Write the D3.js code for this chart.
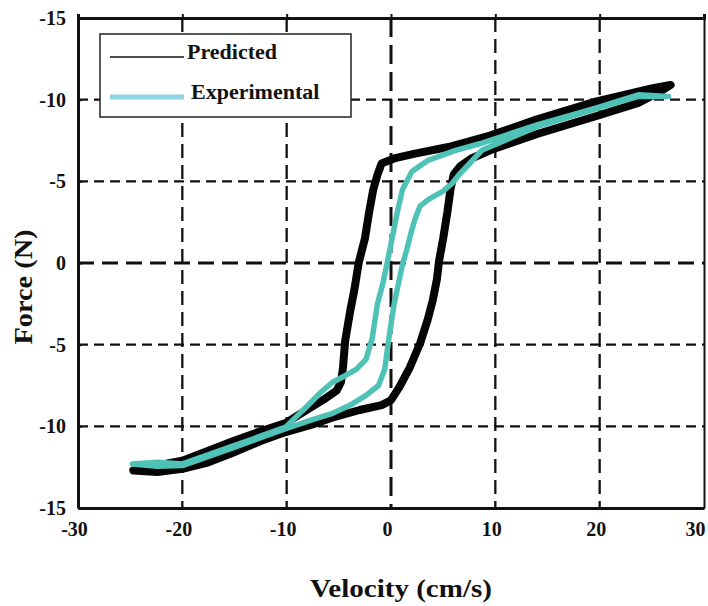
<!DOCTYPE html>
<html>
<head>
<meta charset="utf-8">
<script src="https://cdn.jsdelivr.net/npm/d3@7"></script>
<style>
    body { margin: 0; background: #fff; }
    svg { display: block; font-family: "Liberation Serif", "Times New Roman", serif; font-weight: bold; }
</style>
</head>
<body>
<svg></svg>
<script>
// tick values + the labels printed on the original (y labels are mirrored)
let velocityTicks = [-30, -20, -10, 0, 10, 20, 30]
let velocityTickLabels = ['-30', '-20', '-10', '0', '10', '20', '30']
let forceTicks = [15, 10, 5, 0, -5, -10, -15]
let forceTickLabels = ['-15', '-10', '-5', '0', '-5', '-10', '-15']
let velocityGrid = [-20, -10, 0, 10, 20]
let forceGrid = [10, 5, 0, -5, -10]

// predicted loop
let predictedVelocity = [-24.7, -22.4, -20.0, -17.5, -15.1, -12.5, -10.1, -7.6, -5.3, -3.0, -0.9, 0.0, 0.8, 1.8, 2.8, 3.5, 4.0, 4.4, 4.6, 5.0, 5.4, 5.7, 6.0, 6.6, 7.7, 9.5, 14.0, 19.7, 23.7, 25.8, 26.8,
    25.1, 19.7, 14.0, 9.5, 5.5, 2.3, 0.3, -0.9, -1.3, -1.7, -2.1, -2.5, -3.1, -3.5, -3.9, -4.4, -4.6, -4.8, -5.2, -6.3, -7.6, -10.1, -12.5, -15.1, -17.5, -20.0, -22.4]
let predictedForce = [-12.7, -12.8, -12.6, -12.2, -11.6, -10.9, -10.35, -9.9, -9.4, -9.0, -8.7, -8.4, -7.6, -6.4, -4.9, -3.5, -2.3, -1.0, 0.1, 1.5, 3.1, 4.5, 5.4, 5.9, 6.4, 6.9, 7.9, 9.0, 9.8, 10.5, 10.9,
    10.7, 9.9, 8.8, 7.8, 7.1, 6.7, 6.4, 6.1, 5.4, 4.5, 3.1, 1.5, 0.0, -1.6, -2.9, -4.8, -6.4, -7.3, -7.8, -8.3, -8.8, -9.8, -10.3, -10.9, -11.5, -12.1, -12.4]

// experimental loop
let experimentalVelocity = [-24.8, -22.4, -20.0, -15.1, -10.1, -7.6, -5.6, -3.9, -2.4, -1.2, -0.6, -0.2, 0.3, 0.7, 1.1, 1.5, 1.9, 2.3, 2.8, 3.6, 5.0, 5.9, 6.5, 7.4, 8.7, 14.0, 19.7, 23.7, 26.6,
    23.7, 19.7, 14.0, 8.5, 6.2, 3.6, 2.0, 1.1, 0.6, 0.1, -0.4, -0.8, -1.3, -1.8, -2.4, -3.3, -4.4, -5.6, -6.7, -8.1, -10.1, -15.1, -20.0, -22.4]
let experimentalForce = [-12.3, -12.45, -12.4, -11.3, -10.15, -9.6, -9.2, -8.7, -8.1, -7.5, -6.5, -4.6, -2.5, -1.3, -0.1, 0.8, 1.8, 2.7, 3.5, 3.9, 4.4, 4.9, 5.4, 6.0, 6.9, 8.35, 9.45, 10.2, 10.2,
    10.3, 9.5, 8.45, 7.3, 6.9, 6.3, 5.6, 4.5, 3.1, 1.5, -0.1, -1.3, -2.5, -4.6, -5.9, -6.5, -6.9, -7.3, -7.9, -8.8, -10.05, -11.2, -12.3, -12.2]

let width = 708
let height = 606
let margin = {top: 18, right: 4, bottom: 98, left: 78}

let svg = d3.select('svg')
svg.attr('width', width).attr('height', height)

let xScale = d3.scaleLinear().domain([-30, 30]).range([margin.left, width - margin.right])
let yScale = d3.scaleLinear().domain([-15, 15]).range([height - margin.bottom, margin.top])

let drawGrid = () => {
    svg.append('g')
        .selectAll('line')
        .data(velocityGrid)
        .enter()
        .append('line')
        .attr('x1', d => xScale(d))
        .attr('x2', d => xScale(d))
        .attr('y1', yScale(15))
        .attr('y2', yScale(-15))
        .attr('stroke', '#111')
        .attr('stroke-width', d => d === 0 ? 3 : 2.3)
        .attr('stroke-dasharray', d => d === 0 ? '19,8' : '14,7')

    svg.append('g')
        .selectAll('line')
        .data(forceGrid)
        .enter()
        .append('line')
        .attr('x1', xScale(-30))
        .attr('x2', xScale(30))
        .attr('y1', d => yScale(d))
        .attr('y2', d => yScale(d))
        .attr('stroke', '#111')
        .attr('stroke-width', d => d === 0 ? 3 : 2.3)
        .attr('stroke-dasharray', d => d === 0 ? '16,8' : '10,6')
}

let drawAxes = () => {
    let xAxis = d3.axisBottom(xScale)
        .tickValues(velocityTicks)
        .tickSize(0)
        .tickPadding(14)
        .tickFormat((d, i) => velocityTickLabels[i])
    let yAxis = d3.axisLeft(yScale)
        .tickValues(forceTicks)
        .tickSizeInner(-4)
        .tickSizeOuter(0)
        .tickPadding(12)
        .tickFormat((d, i) => forceTickLabels[i])

    let gx = svg.append('g')
        .attr('transform', 'translate(0, ' + (height - margin.bottom) + ')')
        .call(xAxis)
    gx.selectAll('text')
        .attr('dx', d => d === 30 ? -9 : -4)
    let gy = svg.append('g')
        .attr('transform', 'translate(' + margin.left + ', 0)')
        .call(yAxis)

    let gTop = svg.append('g')
        .attr('transform', 'translate(0, ' + margin.top + ')')
        .call(d3.axisTop(xScale).tickValues(velocityGrid).tickSize(4).tickFormat(''))
    let gRight = svg.append('g')
        .attr('transform', 'translate(' + (width - margin.right) + ', 0)')
        .call(d3.axisRight(yScale).tickValues(forceGrid).tickSize(0).tickFormat(''))

    ;[gx, gy, gTop, gRight].forEach(g => {
        g.selectAll('text')
            .attr('font-family', '"Liberation Serif", "Times New Roman", serif')
            .attr('font-weight', 'bold')
            .attr('font-size', 20)
            .attr('fill', '#111')
        g.selectAll('line').attr('stroke', '#111').attr('stroke-width', 2)
        g.select('.domain').attr('stroke', '#111').attr('stroke-width', 3)
    })
    gRight.select('.domain').attr('stroke-width', 2)
}

let drawLoops = () => {
    let line = d3.line()
        .x(d => xScale(d[0]))
        .y(d => yScale(d[1]))
        .curve(d3.curveLinearClosed)

    let predicted = predictedVelocity.map((v, i) => [v, predictedForce[i]])
    let experimental = experimentalVelocity.map((v, i) => [v, experimentalForce[i]])

    svg.append('path')
        .datum(predicted)
        .attr('d', line)
        .attr('fill', 'none')
        .attr('stroke', '#050505')
        .attr('stroke-width', 8)
        .attr('stroke-linejoin', 'round')

    svg.append('path')
        .datum(experimental)
        .attr('d', line)
        .attr('fill', 'none')
        .attr('stroke', '#4fc2b8')
        .attr('stroke-width', 5.5)
        .attr('stroke-linejoin', 'round')
}

let drawLegend = () => {
    let legend = svg.append('g')
    legend.append('rect')
        .attr('x', 100).attr('y', 34)
        .attr('width', 251).attr('height', 83)
        .attr('fill', '#fff')
        .attr('stroke', '#222')
        .attr('stroke-width', 1.5)

    let items = [
        {name: 'Predicted', color: '#111', w: 1.6, y: 57, tx: 187},
        {name: 'Experimental', color: '#8ed3df', w: 5, y: 97, tx: 191}
    ]
    items.forEach(item => {
        legend.append('line')
            .attr('x1', 110).attr('x2', 184)
            .attr('y1', item.y).attr('y2', item.y)
            .attr('stroke', item.color)
            .attr('stroke-width', item.w)
        legend.append('text')
            .attr('x', item.tx)
            .attr('y', item.y + 2)
            .attr('font-size', 22)
            .attr('fill', '#111')
            .text(item.name)
    })
}

let drawTitles = () => {
    svg.append('text')
        .attr('x', 401)
        .attr('y', 597)
        .attr('text-anchor', 'middle')
        .attr('font-size', 26)
        .attr('textLength', 182)
        .attr('lengthAdjust', 'spacingAndGlyphs')
        .attr('fill', '#111')
        .text('Velocity (cm/s)')

    svg.append('text')
        .attr('transform', 'translate(32, 287) rotate(-90)')
        .attr('text-anchor', 'middle')
        .attr('font-size', 25)
        .attr('textLength', 115)
        .attr('lengthAdjust', 'spacingAndGlyphs')
        .attr('fill', '#111')
        .text('Force (N)')
}

drawGrid()
drawLoops()
drawAxes()
drawLegend()
drawTitles()
</script>
</body>
</html>
